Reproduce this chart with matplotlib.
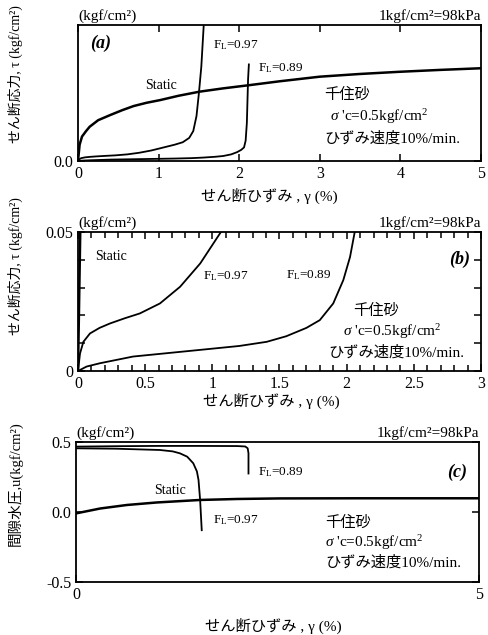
import matplotlib
matplotlib.use("Agg")
import matplotlib.pyplot as plt
from matplotlib.ticker import MultipleLocator, FixedLocator, FixedFormatter

plt.rcParams["font.family"] = ["Liberation Serif", "Noto Sans CJK JP"]
plt.rcParams["mathtext.fontset"] = "custom"
plt.rcParams["mathtext.rm"] = "Liberation Serif"
plt.rcParams["mathtext.it"] = "Liberation Serif:italic"

# shear stress curves (kgf/cm2) vs shear strain (%)
static_x = [0, 0.01, 0.02, 0.05, 0.1, 0.145, 0.25, 0.4, 0.55, 0.69, 0.85, 1.02, 1.25,
            1.51, 1.8, 2.13, 2.5, 3.0, 3.5, 3.99, 4.5, 5.0]
static_tau = [0, 0.03, 0.06, 0.09, 0.11, 0.126, 0.15, 0.169, 0.187, 0.202, 0.214, 0.224,
              0.24, 0.255, 0.267, 0.279, 0.293, 0.31, 0.32, 0.328, 0.335, 0.341]

fl097_x = [0, 0.015, 0.04, 0.089, 0.16, 0.238, 0.35, 0.46, 0.61, 0.76, 0.91, 1.057,
           1.2, 1.3, 1.38, 1.43, 1.47, 1.50, 1.53, 1.56, 1.57]
fl097_tau = [0, 0.0063, 0.0105, 0.0135, 0.0155, 0.0171, 0.019, 0.0207, 0.0243, 0.0303,
             0.0387, 0.0495, 0.060, 0.069, 0.085, 0.11, 0.165, 0.249, 0.347, 0.5, 0.56]

fl089_x = [0, 0.064, 0.164, 0.41, 0.91, 1.2, 1.405, 1.55, 1.70, 1.80, 1.90, 1.975,
           2.025, 2.06, 2.08, 2.095, 2.11, 2.12]
fl089_tau = [0, 0.0016, 0.0028, 0.0052, 0.0076, 0.009, 0.0105, 0.0125, 0.0155, 0.0183,
             0.0243, 0.0327, 0.041, 0.05, 0.075, 0.14, 0.30, 0.355]

# pore water pressure (kgf/cm2)
u_static_x = [0, 0.3, 0.63, 1.0, 1.54, 2.0, 2.53, 3.5, 5.0]
u_static = [-0.01, 0.025, 0.05, 0.068, 0.086, 0.093, 0.097, 0.098, 0.098]

u_fl089_x = [0, 0.5, 1.0, 1.5, 2.0, 2.1, 2.13, 2.14, 2.14]
u_fl089 = [0.467, 0.47, 0.472, 0.472, 0.471, 0.468, 0.455, 0.42, 0.275]

u_fl097_x = [0, 0.5, 1.04, 1.2, 1.29, 1.38, 1.455, 1.5, 1.52, 1.54, 1.56]
u_fl097 = [0.455, 0.452, 0.443, 0.433, 0.419, 0.395, 0.348, 0.29, 0.229, 0.086, -0.13]

W, H = 489, 635
fig = plt.figure(figsize=(W / 100, H / 100), dpi=100)


def box(l, t, r, b):
    return [l / W, 1 - b / H, (r - l) / W, (b - t) / H]


def style(ax):
    for s in ax.spines.values():
        s.set_linewidth(1.3)
    ax.tick_params(which="both", direction="in", top=True, right=True,
                   labelsize=11.5, width=1.1)
    ax.tick_params(which="major", length=5)
    ax.tick_params(which="minor", length=4)


def header(ax):
    ax.text(0.0, 1.015, "(kgf/cm²)", transform=ax.transAxes, fontsize=11,
            ha="left", va="bottom")
    ax.text(1.0, 1.015, "1kgf/cm²=98kPa", transform=ax.transAxes, fontsize=11,
            ha="right", va="bottom")


def notes(ax, x, ys, xo=0.0, fs=11):
    ax.text(x, ys[0], "千住砂", fontsize=fs, ha="left", va="center")
    ax.text(x + xo, ys[1], r"$\sigma$ 'c=0.5kgf/cm$^2$", fontsize=fs, ha="left", va="center")
    ax.text(x, ys[2], "ひずみ速度10%/min.", fontsize=fs, ha="left", va="center")


xlab = "せん断ひずみ , γ (%)"
ylab = "せん断応力, τ (kgf/cm²)"

# (a)
ax = fig.add_axes(box(78, 25, 481, 161))
ax.plot(static_x, static_tau, color="black", lw=1.8)
ax.plot(fl097_x, fl097_tau, color="black", lw=1.3)
ax.plot(fl089_x, fl089_tau, color="black", lw=1.3)
ax.set_xlim(0, 5)
ax.set_ylim(0, 0.5)
ax.xaxis.set_major_locator(MultipleLocator(1))
ax.yaxis.set_major_locator(FixedLocator([0]))
ax.yaxis.set_major_formatter(FixedFormatter(["0.0"]))
style(ax)
header(ax)
ax.text(0.15, 0.434, "(a)", fontsize=13, style="italic", weight="bold", va="center")
ax.text(1.68, 0.426, "F$_\\mathrm{L}$=0.97", fontsize=9.5, va="center")
ax.text(2.23, 0.342, "F$_\\mathrm{L}$=0.89", fontsize=9.5, va="center")
ax.text(1.03, 0.279, "Static", fontsize=10, ha="center", va="center")
notes(ax, 3.06, [0.245, 0.165, 0.083], xo=0.07)
ax.set_xlabel(xlab, fontsize=11, labelpad=4)
ax.xaxis.label.set_x(0.475)
fig.text(15 / W, 1 - 74 / H, ylab, rotation=90, fontsize=10, ha="center", va="center")

# (b)
ax = fig.add_axes(box(78, 232, 481, 371))
ax.plot(static_x, static_tau, color="black", lw=1.8)
ax.plot(fl097_x, fl097_tau, color="black", lw=1.3)
ax.plot(fl089_x, fl089_tau, color="black", lw=1.3)
ax.set_xlim(0, 3)
ax.set_ylim(0, 0.05)
ax.xaxis.set_major_locator(FixedLocator([0, 0.5, 1, 1.5, 2, 2.5, 3]))
ax.xaxis.set_minor_locator(MultipleLocator(0.1))
ax.xaxis.set_major_formatter(FixedFormatter(["0", "0.5", "1", "1.5", "2", "2.5", "3"]))
ax.yaxis.set_major_locator(FixedLocator([0, 0.01, 0.02, 0.03, 0.04, 0.05]))
ax.yaxis.set_major_formatter(FixedFormatter(["0", "", "", "", "", "0.05"]))
style(ax)
header(ax)
ax.text(2.92, 0.040, "(b)", fontsize=13, style="italic", weight="bold",
        ha="right", va="center")
ax.text(0.13, 0.0411, "Static", fontsize=10, va="center")
ax.text(0.93, 0.034, "F$_\\mathrm{L}$=0.97", fontsize=9.5, va="center")
ax.text(1.55, 0.0345, "F$_\\mathrm{L}$=0.89", fontsize=9.5, va="center")
ax.text(2.05, 0.0215, "千住砂", fontsize=11, ha="left", va="center")
ax.text(1.97, 0.0143, r"$\sigma$ 'c=0.5kgf/cm$^2$", fontsize=11, ha="left", va="center")
ax.text(1.86, 0.0068, "ひずみ速度10%/min.", fontsize=11, ha="left", va="center")
ax.set_xlabel(xlab, fontsize=11, labelpad=1)
ax.xaxis.label.set_x(0.48)
fig.text(15 / W, 1 - 266 / H, ylab, rotation=90, fontsize=10, ha="center", va="center")

# (c)
ax = fig.add_axes(box(76, 442, 479, 582))
ax.plot(u_static_x, u_static, color="black", lw=1.8)
ax.plot(u_fl089_x, u_fl089, color="black", lw=1.3)
ax.plot(u_fl097_x, u_fl097, color="black", lw=1.3)
ax.set_xlim(0, 5)
ax.set_ylim(-0.5, 0.5)
ax.xaxis.set_major_locator(FixedLocator([0, 5]))
ax.yaxis.set_major_locator(FixedLocator([-0.5, 0, 0.5]))
ax.yaxis.set_major_formatter(FixedFormatter(["-0.5", "0.0", "0.5"]))
style(ax)
ax.tick_params(axis="x", top=False)
header(ax)
ax.text(4.85, 0.286, "(c)", fontsize=13, style="italic", weight="bold",
        ha="right", va="center")
ax.text(2.26, 0.286, "F$_\\mathrm{L}$=0.89", fontsize=9.5, va="center")
ax.text(1.17, 0.157, "Static", fontsize=10, ha="center", va="center")
ax.text(1.70, -0.057, "F$_\\mathrm{L}$=0.97", fontsize=9.5, va="center")
notes(ax, 3.09, [-0.08, -0.22, -0.36])
ax.set_xlabel(xlab, fontsize=11, labelpad=11)
ax.xaxis.label.set_x(0.49)
fig.text(15 / W, 1 - 484 / H, "間隙水圧,u(kgf/cm²)", rotation=90, fontsize=10.5,
         ha="center", va="center")

fig.savefig("out.png", dpi=100)
